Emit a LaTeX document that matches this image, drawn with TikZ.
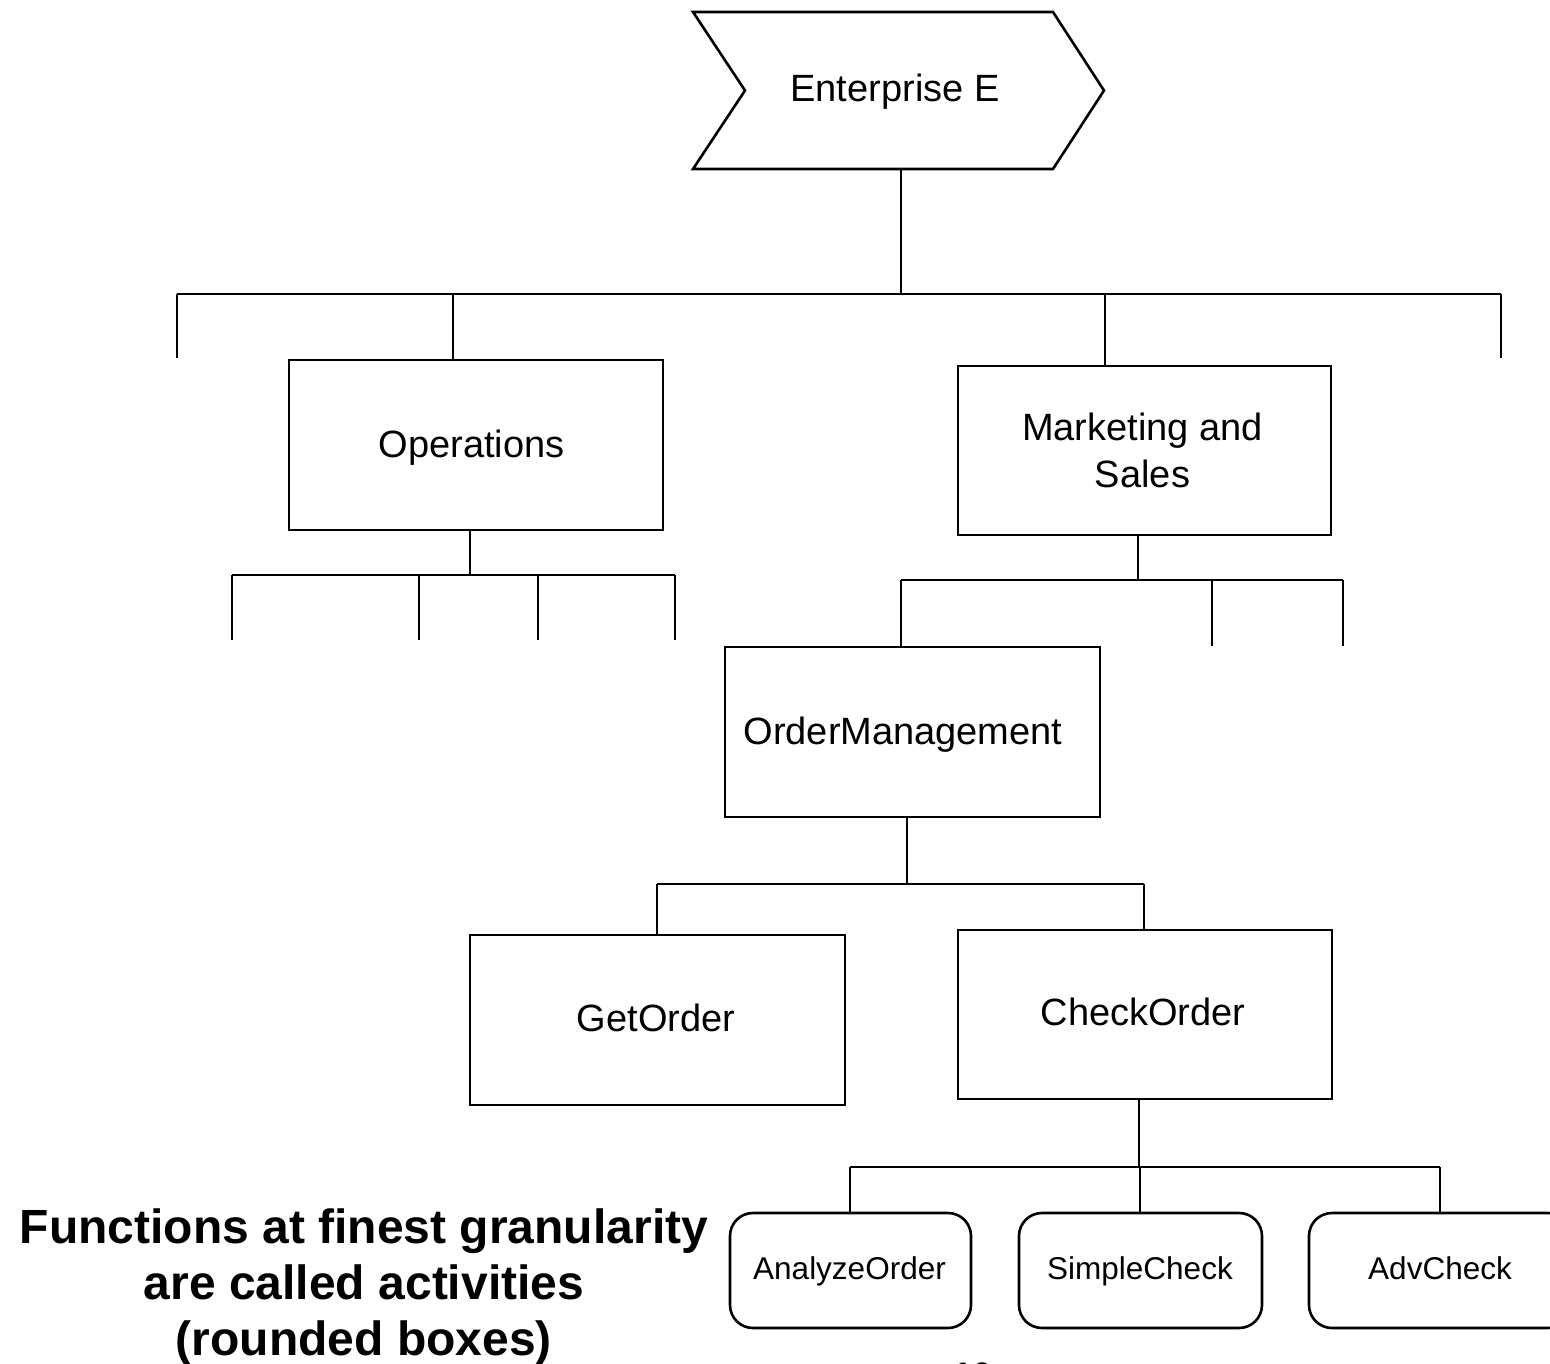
\documentclass[tikz,border=0pt]{standalone}
\usepackage{fontspec}
\setmainfont{Liberation Sans}
\begin{document}
\begin{tikzpicture}[x=1pt,y=-1pt,line width=2.6pt,
  fnbox/.style={draw, rectangle, inner sep=0pt},
  actbox/.style={draw, rectangle, rounded corners=23pt, inner sep=0pt,
    minimum height=115pt},
  fntext/.style={anchor=base, inner sep=0pt, font=\fontsize{38}{47}\selectfont},
  acttext/.style={anchor=base, inner sep=0pt, font=\fontsize{31.5}{38}\selectfont},
  wire/.style={line width=2.6pt}]
\useasboundingbox (0,0) rectangle (1550,1364);

% top-level enterprise chevron
\draw (693,12) -- (1053,12) -- (1104,90.5) -- (1053,169) -- (693,169) -- (745,90.5) -- cycle;
\node[fntext] (ent) at (895,102) {Enterprise E};
\coordinate (entb) at (901,169);

% function boxes
\node[fnbox, minimum width=374pt, minimum height=170pt] (ops) at (476,445) {};
\node[fntext] (opst) at (471.5,457) {Operations};
\node[fnbox, minimum width=373pt, minimum height=169pt, align=center,
  font=\fontsize{38}{47}\selectfont] (mkt) at (1144.5,450.5)
  {\hspace*{-4pt}Marketing and\\\hspace*{-4pt}Sales};
\node[fnbox, minimum width=375pt, minimum height=170pt] (om) at (912.5,732) {};
\node[fntext] (omt) at (903,744) {OrderManagement};
\node[fnbox, minimum width=375pt, minimum height=170pt] (get) at (657.5,1020) {};
\node[fntext] (gett) at (656,1031.5) {GetOrder};
\node[fnbox, minimum width=374pt, minimum height=169pt] (chk) at (1145,1014.5) {};
\node[fntext] (chkt) at (1143,1025.5) {CheckOrder};

% activities
\node[actbox, minimum width=241pt] (ana) at (850.5,1270.5) {};
\node[acttext] (anat) at (849.5,1279) {AnalyzeOrder};
\node[actbox, minimum width=243pt] (sim) at (1140.5,1270.5) {};
\node[acttext] (simt) at (1140,1279) {SimpleCheck};
\node[actbox, minimum width=262pt] (adv) at (1440,1270.5) {};
\node[acttext] (advt) at (1440,1279) {AdvCheck};

% level 1 bus
\coordinate (t0) at (901,294);
\coordinate (tL) at (177,294);
\coordinate (tR) at (1501,294);
\coordinate (tLe) at (177,358);
\coordinate (tRe) at (1501,358);
\coordinate (t1) at (453,294);
\coordinate (t2) at (1105,294);
\draw[wire] (entb) -- (t0);
\draw[wire] (tL) -- (tR);
\draw[wire] (tL) -- (tLe);
\draw[wire] (tR) -- (tRe);
\draw[wire] (t1) -- (t1 |- ops.north);
\draw[wire] (t2) -- (t2 |- mkt.north);

% operations bus
\coordinate (o0) at (470,575);
\coordinate (o1) at (232,575);
\coordinate (o2) at (419,575);
\coordinate (o3) at (538,575);
\coordinate (o4) at (675,575);
\coordinate (o1e) at (232,640);
\coordinate (o2e) at (419,640);
\coordinate (o3e) at (538,640);
\coordinate (o4e) at (675,640);
\draw[wire] (o0 |- ops.south) -- (o0);
\draw[wire] (o1) -- (o4);
\draw[wire] (o1) -- (o1e);
\draw[wire] (o2) -- (o2e);
\draw[wire] (o3) -- (o3e);
\draw[wire] (o4) -- (o4e);

% marketing bus
\coordinate (m0) at (1138,580);
\coordinate (m1) at (901,580);
\coordinate (m2) at (1212,580);
\coordinate (m3) at (1343,580);
\coordinate (m2e) at (1212,646);
\coordinate (m3e) at (1343,646);
\draw[wire] (m0 |- mkt.south) -- (m0);
\draw[wire] (m1) -- (m3);
\draw[wire] (m1) -- (m1 |- om.north);
\draw[wire] (m2) -- (m2e);
\draw[wire] (m3) -- (m3e);

% order management bus
\coordinate (g0) at (907,884);
\coordinate (g1) at (657,884);
\coordinate (g2) at (1144,884);
\draw[wire] (g0 |- om.south) -- (g0);
\draw[wire] (g1) -- (g2);
\draw[wire] (g1) -- (g1 |- get.north);
\draw[wire] (g2) -- (g2 |- chk.north);

% check order bus
\coordinate (c0) at (1139,1167);
\coordinate (c1) at (850,1167);
\coordinate (c2) at (1140,1167);
\coordinate (c3) at (1440,1167);
\draw[wire] (c0 |- chk.south) -- (c0);
\draw[wire] (c1) -- (c3);
\draw[wire] (c1) -- (c1 |- ana.north);
\draw[wire] (c2) -- (c2 |- sim.north);
\draw[wire] (c3) -- (c3 |- adv.north);

% explanatory note
\node[align=center, inner sep=0pt, font=\bfseries\fontsize{48}{56}\selectfont] (note) at (364,1287)
  {Functions at finest granularity\\are called activities\\(rounded boxes)};

% page number, running off the lower edge
\node[anchor=north, inner sep=0pt, font=\bfseries\fontsize{34}{40}\selectfont] (pg) at (972,1361) {16};
\end{tikzpicture}
\end{document}
